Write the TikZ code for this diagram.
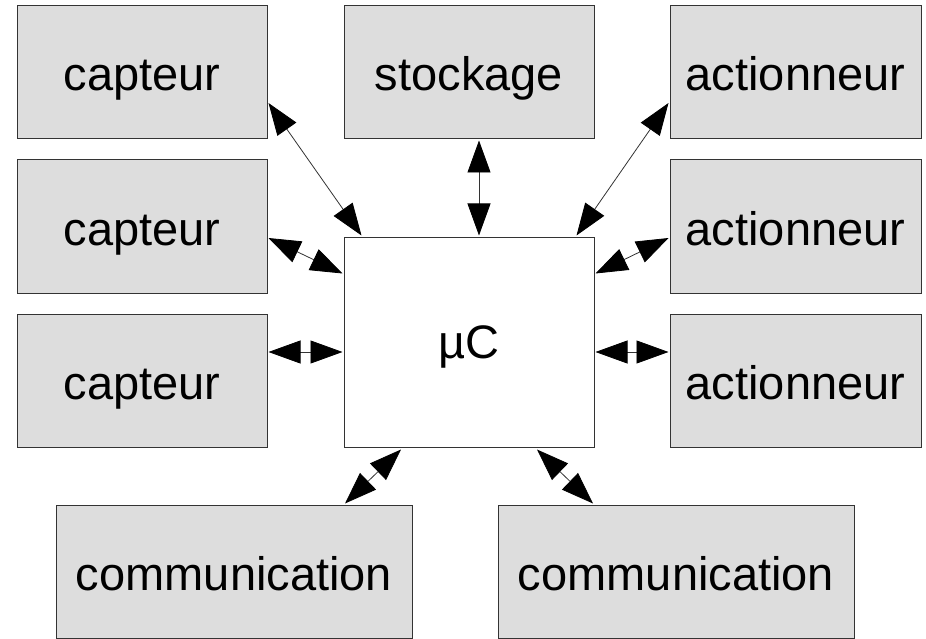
\documentclass[tikz,border=0pt]{standalone}
\usepackage{fontspec}
\setmainfont{Liberation Sans}
\usetikzlibrary{arrows.meta}
\definecolor{boxfill}{HTML}{DDDDDD}
\definecolor{boxline}{HTML}{333333}
\begin{document}
\begin{tikzpicture}[x=1pt,y=-1pt,
  gbox/.style={draw=boxline, line width=1pt, fill=boxfill, inner sep=0pt, minimum width=250pt, minimum height=133pt, font=\fontsize{47}{56}\selectfont, text height=37pt, text depth=0pt},
  wbox/.style={gbox, fill=white, minimum height=210pt, text height=32pt},
  link/.style={line width=0.8pt, draw=black!80, {Triangle[length=32pt,width=23pt,fill=black,color=black]}-{Triangle[length=32pt,width=23pt,fill=black,color=black]}}]
\useasboundingbox (0,0) rectangle (926,639);
\node[gbox] (c1) at (142,72.5) {capteur};
\node[gbox] (st) at (469,72.5) {stockage};
\node[gbox, minimum width=251pt] (a1) at (795.5,72.5) {actionneur};
\node[gbox] (c2) at (142,226.5) {capteur};
\node[gbox, minimum width=251pt] (a2) at (795.5,226.5) {actionneur};
\node[gbox] (c3) at (142,380.5) {capteur};
\node[gbox, minimum width=251pt] (a3) at (795.5,380.5) {actionneur};
\node[wbox] (mc) at (469,342) {µC};
\node[gbox, minimum width=356pt] (m1) at (234,571.5) {communication};
\node[gbox, minimum width=356pt] (m2) at (676,571.5) {communication};
\draw[link] ([shift={(1,30.5)}]c1.east) -- ([shift={(18,-1)}]mc.north west);
\draw[link] ([shift={(1,11.5)}]c2.east) -- ([shift={(-1,37)}]mc.north west);
\draw[link] ([shift={(1,-28.5)}]c3.east) -- ([shift={(-1,10)}]mc.west);
\draw[link] ([shift={(10,1)}]st.south) -- ([shift={(10,-1)}]mc.north);
\draw[link] ([shift={(-1,30.5)}]a1.west) -- ([shift={(-18,-1)}]mc.north east);
\draw[link] ([shift={(-1,11.5)}]a2.west) -- ([shift={(1,37)}]mc.north east);
\draw[link] ([shift={(-1,-28.5)}]a3.west) -- ([shift={(1,10)}]mc.east);
\draw[link] ([shift={(-68,2)}]mc.south) -- ([shift={(111,-1)}]m1.north);
\draw[link] ([shift={(68,2)}]mc.south) -- ([shift={(-83,-1)}]m2.north);
\end{tikzpicture}
\end{document}
